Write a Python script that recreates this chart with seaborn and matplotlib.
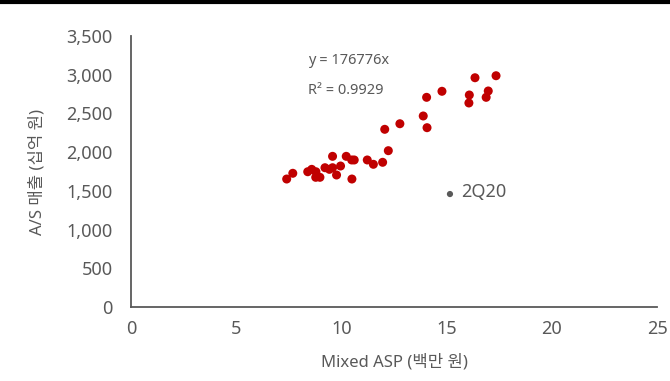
import matplotlib
matplotlib.use('Agg')
import matplotlib.pyplot as plt
import seaborn as sns
import pandas as pd

# Mixed ASP (백만 원) vs A/S 매출 (십억 원)
asp = [7.40, 7.69, 8.40, 8.59, 8.79, 8.78, 8.98, 9.22, 9.43, 9.58, 9.58,
       9.77, 9.96, 10.23, 10.49, 10.61, 10.50, 11.23, 11.52, 11.96, 12.23,
       12.06, 12.78, 13.89, 14.07, 14.05, 14.78, 16.08, 16.06, 16.35, 16.88,
       16.98, 17.35]
sales = [1653, 1727, 1747, 1778, 1747, 1675, 1675, 1799, 1778, 1799, 1946,
         1705, 1821, 1946, 1899, 1899, 1653, 1899, 1843, 1869, 2019,
         2295, 2367, 2467, 2316, 2708, 2786, 2738, 2635, 2961, 2708,
         2790, 2987]
q2_asp = 15.16
q2_sales = 1459
x_ticks = [0, 5, 10, 15, 20, 25]
y_ticks = [0, 500, 1000, 1500, 2000, 2500, 3000, 3500]

df = pd.DataFrame({'asp': asp, 'sales': sales})

sns.set_style('white')
plt.rcParams['font.family'] = ['Noto Sans', 'Noto Sans CJK KR', 'DejaVu Sans']
plt.rcParams['font.weight'] = 'medium'
gray = '#595959'

fig = plt.figure(figsize=(6.7, 3.81), dpi=100)
ax = fig.add_axes([0.1955, 0.1942, 0.7851, 0.7113])

sns.scatterplot(data=df, x='asp', y='sales', ax=ax, color='#C00000',
                s=42, edgecolor='none', legend=False)
ax.scatter([q2_asp], [q2_sales], color=gray, s=20, edgecolor='none')
ax.text(q2_asp + 0.55, q2_sales + 20, '2Q20', color=gray, fontsize=13,
        va='center')

ax.text(8.4, 3180, 'y = 176776x', color=gray, fontsize=10.5, va='center')
ax.text(8.4, 2800, 'R² = 0.9929', color=gray, fontsize=10.5, va='center')

ax.set_xlim(0, 25)
ax.set_ylim(0, 3500)
ax.set_xticks(x_ticks)
ax.set_yticks(y_ticks)
ax.set_yticklabels([f'{v:,}' for v in y_ticks])
ax.tick_params(axis='both', colors=gray, labelsize=13, length=4, width=1.3,
               direction='out', labelcolor=gray)
ax.tick_params(axis='y', pad=9)
ax.tick_params(axis='x', pad=5)
for side in ['top', 'right']:
    ax.spines[side].set_visible(False)
for side in ['left', 'bottom']:
    ax.spines[side].set_color(gray)
    ax.spines[side].set_linewidth(1.3)

ax.set_xlabel('Mixed ASP (백만 원)', color=gray, fontsize=12, labelpad=12)
ax.set_ylabel('A/S 매출 (십억 원)', color=gray, fontsize=12, labelpad=15)

fig.add_artist(plt.Line2D([0, 1], [0.996, 0.996], color='black', linewidth=3,
                          transform=fig.transFigure))

fig.savefig('out.png', dpi=100)
